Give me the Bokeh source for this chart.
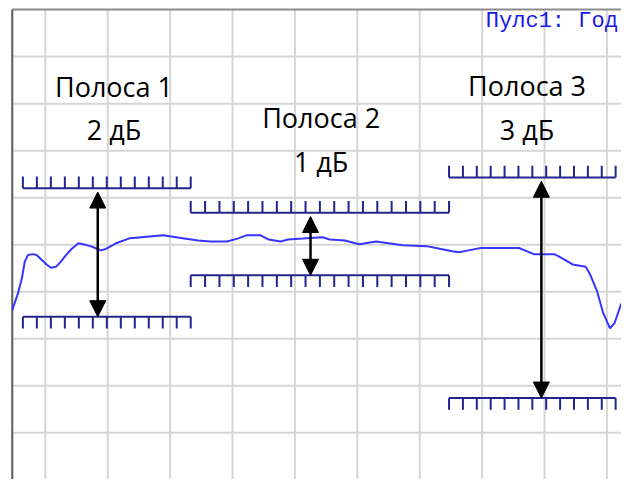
from bokeh.plotting import figure
from bokeh.models import Range1d, Arrow, NormalHead
from bokeh.core.properties import value
from bokeh.embed import file_html
from bokeh.resources import INLINE
import numpy as np

# ---- data (x: frequency in grid divisions, y: level in grid divisions) ----
trace_x = [-0.53, -0.52, -0.44, -0.375, -0.33, -0.28, -0.20, -0.14, -0.06, 0.02,
           0.09, 0.17, 0.25, 0.33, 0.42, 0.53, 0.61, 0.72, 0.80, 0.89,
           0.97, 1.08, 1.13, 1.36, 1.89, 2.20, 2.45, 2.64, 2.91, 3.08,
           3.22, 3.45, 3.58, 3.77, 3.89, 4.125, 4.44, 4.56, 4.80, 5.03,
           5.30, 5.50, 5.73, 6.11, 6.34, 6.52, 6.63, 6.78, 6.98, 7.59,
           7.83, 8.16, 8.30, 8.45, 8.66, 8.73, 8.84, 8.94, 9.05, 9.125, 9.23]
trace_y = [3.61, 3.65, 3.96, 4.29, 4.64, 4.78, 4.80, 4.78, 4.68, 4.58,
           4.51, 4.53, 4.64, 4.78, 4.91, 5.03, 5.01, 4.97, 4.93, 4.88,
           4.91, 4.99, 5.03, 5.14, 5.20, 5.14, 5.09, 5.07, 5.07, 5.13,
           5.20, 5.20, 5.11, 5.07, 5.11, 5.13, 5.16, 5.11, 5.09, 5.01,
           5.07, 5.03, 4.99, 4.97, 4.91, 4.86, 4.84, 4.88, 4.93, 4.93,
           4.80, 4.80, 4.70, 4.58, 4.53, 4.37, 4.02, 3.55, 3.22, 3.34, 3.75]

band_names = ["Полоса 1", "Полоса 2", "Полоса 3"]
band_db = ["2 дБ", "1 дБ", "3 дБ"]
band_x0 = [-0.36, 2.33, 6.47]
band_x1 = [2.33, 6.47, 9.14]
band_upper = [6.20, 5.68, 6.43]
band_lower = [3.47, 4.35, 1.74]
band_ticks = [13, 19, 13]
arrow_x = [0.84, 4.25, 7.95]
marker_text = ["Пулс1: Год"]

grid_x = list(range(0, 10))
grid_y = list(range(0, 10))

# ---- layout helpers (styling, not data) ----
label_x = [1.10, 4.42, 7.72]
name_y = [8.36, 7.70, 8.38]
db_y = [7.45, 6.77, 7.45]
tick_len = 0.25
x_lo, x_hi = -0.71875, 9.234
y_lo, y_hi = 0.008, 10.193
left_border = -0.53
top_border = 10.0

p = figure(width=621, height=479, x_range=Range1d(x_lo, x_hi), y_range=Range1d(y_lo, y_hi),
           output_backend="svg", toolbar_location=None, x_axis_type=None, y_axis_type=None,
           min_border=0, outline_line_color=None,
           background_fill_color="white", border_fill_color="white")

# grid
p.segment(x0=grid_x, y0=[y_lo - 1] * len(grid_x), x1=grid_x, y1=[top_border] * len(grid_x),
          line_color="#d6d6d6", line_width=2)
p.segment(x0=[left_border] * len(grid_y), y0=grid_y, x1=[x_hi + 1] * len(grid_y), y1=grid_y,
          line_color="#d6d6d6", line_width=2)
# frame borders
p.segment(x0=[left_border], y0=[top_border], x1=[x_hi + 1], y1=[top_border],
          line_color="#8c8c8c", line_width=2)
p.segment(x0=[left_border], y0=[y_lo - 1], x1=[left_border], y1=[top_border],
          line_color="#5a5a5a", line_width=2)

# trace
p.line(trace_x, trace_y, line_color="#3535ff", line_width=2)

# tolerance band limits with comb ticks
band_color = "#24248e"
for x0, x1, up, lo, n in zip(band_x0, band_x1, band_upper, band_lower, band_ticks):
    tx = list(np.linspace(x0, x1, n))
    p.segment(x0=[x0, x0], y0=[up, lo], x1=[x1, x1], y1=[up, lo], line_color=band_color, line_width=2)
    p.segment(x0=tx, y0=[up] * n, x1=tx, y1=[up + tick_len] * n, line_color=band_color, line_width=2)
    p.segment(x0=tx, y0=[lo] * n, x1=tx, y1=[lo - tick_len] * n, line_color=band_color, line_width=2)

# double arrows
for ax, up, lo in zip(arrow_x, band_upper, band_lower):
    p.add_layout(Arrow(x_start=ax, y_start=lo, x_end=ax, y_end=up - 0.08,
                       start=NormalHead(size=16, fill_color="black", line_color="black", line_width=1),
                       end=NormalHead(size=16, fill_color="black", line_color="black", line_width=1),
                       line_color="black", line_width=2.5))

# labels
p.text(x=label_x, y=name_y, text=band_names, text_font=value("Open Sans"), text_font_size="27px",
       text_align="center", text_baseline="alphabetic", text_color="black")
p.text(x=label_x, y=db_y, text=band_db, text_font=value("Open Sans"), text_font_size="27px",
       text_align="center", text_baseline="alphabetic", text_color="black")

# marker readout
p.text(x=[7.06], y=[9.75], text=marker_text, text_font=value("Liberation Mono"), text_font_size="22px",
       text_align="left", text_baseline="alphabetic", text_color="#1a1ae6")

open("out.html", "w").write(file_html(p, INLINE))
